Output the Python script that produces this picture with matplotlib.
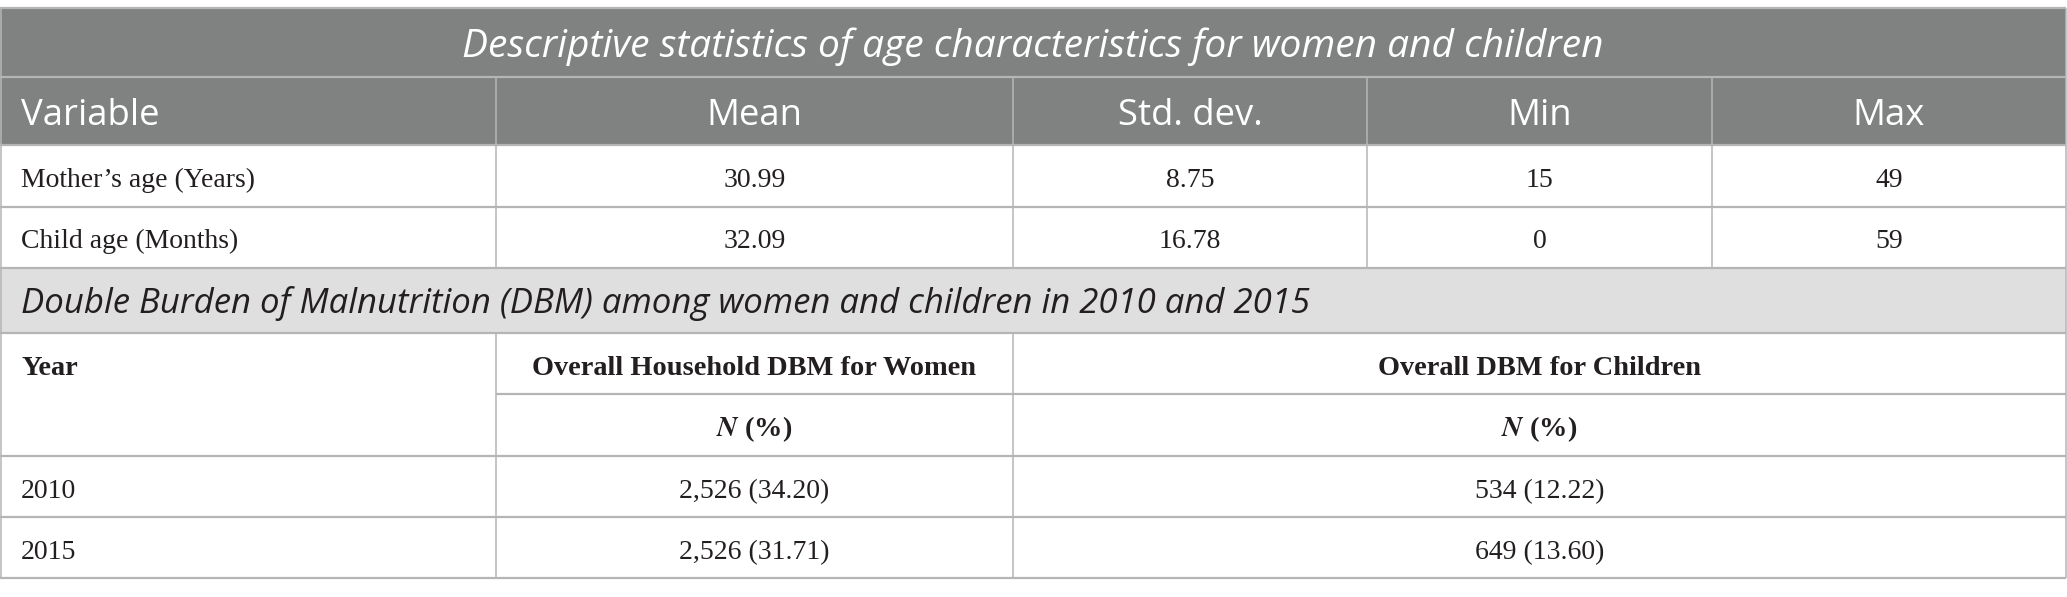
import matplotlib
matplotlib.use("Agg")
import matplotlib.pyplot as plt
from matplotlib.patches import Rectangle

# ---------------- data ----------------
title_top = "Descriptive statistics of age characteristics for women and children"
header_top = ["Variable", "Mean", "Std. dev.", "Min", "Max"]
variables = ["Mother\u2019s age (Years)", "Child age (Months)"]
means = ["30.99", "32.09"]
stds = ["8.75", "16.78"]
mins = ["15", "0"]
maxs = ["49", "59"]

title_bottom = "Double Burden of Malnutrition (DBM) among women and children in 2010 and 2015"
header_bottom = ["Year", "Overall Household DBM for Women", "Overall DBM for Children"]
sub_header = "(%)"
years = ["2010", "2015"]
women_dbm = ["2,526 (34.20)", "2,526 (31.71)"]
children_dbm = ["534 (12.22)", "649 (13.60)"]

# ---------------- layout (pixels) ----------------
W, H = 2067, 597
cols = [0, 496, 1013, 1367, 1712, 2066]
rows = [8, 77, 145, 207, 268, 333, 394, 456, 517, 578]

DARK = "#808281"
LIGHT = "#e0dfdf"
LINE = "#b5b5b5"
TXT = "#231f20"
SANS = "Open Sans"
SERIF = "Liberation Serif"

fig = plt.figure(figsize=(W / 100, H / 100), dpi=100)
ax = fig.add_axes([0, 0, 1, 1])
ax.set_xlim(0, W)
ax.set_ylim(H, 0)
ax.axis("off")

def band(y0, y1, color):
    ax.add_patch(Rectangle((cols[0], y0), cols[-1] - cols[0], y1 - y0,
                           facecolor=color, edgecolor="none", zorder=0))

band(rows[0], rows[2], DARK)
band(rows[4], rows[5], LIGHT)

def hline(y, x0=cols[0], x1=cols[-1], color=LINE, lw=1.6):
    ax.plot([x0, x1], [y, y], color=color, lw=lw, solid_capstyle="butt", zorder=2)

def vline(x, y0, y1, color=LINE, lw=1.1):
    ax.plot([x, x], [y0, y1], color=color, lw=lw, solid_capstyle="butt", zorder=2)

for i, y in enumerate(rows):
    if i == 6:
        hline(y, cols[1], cols[-1])
    else:
        hline(y)

# vertical separators
for x in cols[1:-1]:
    vline(x, rows[1], rows[4])
for x in cols[1:3]:
    vline(x, rows[5], rows[9])
vline(cols[0] + 0.8, rows[0], rows[9])
vline(cols[-1] - 0.5, rows[0], rows[9])

def center(i):
    return (rows[i] + rows[i + 1]) / 2

def col_mid(a, b):
    return (cols[a] + cols[b]) / 2

LX = 21

# title row
ax.text(W / 2 - 1, center(0) + 14.5, title_top, color="white", family=SANS,
        style="italic", fontsize=28, ha="center", va="baseline")

# header row
for j, h in enumerate(header_top):
    x = LX if j == 0 else col_mid(j, j + 1)
    ax.text(x, center(1) + 14, h, color="white", family=SANS, fontsize=26.3,
            ha="left" if j == 0 else "center", va="baseline")

# age rows
for r, vals in enumerate(zip(variables, means, stds, mins, maxs)):
    for j, v in enumerate(vals):
        x = LX if j == 0 else col_mid(j, j + 1)
        ax.text(x, center(2 + r) + 11, v, color=TXT, family=SERIF, fontsize=20,
                ha="left" if j == 0 else "center", va="baseline")

# DBM section title
ax.text(LX, center(4) + 12.5, title_bottom, color=TXT, family=SANS,
        style="italic", fontsize=25, ha="left", va="baseline")

# DBM header
ax.text(LX, center(5) + 11.5, header_bottom[0], color=TXT, family=SERIF,
        weight="bold", fontsize=20.4, ha="left", va="baseline")
ax.text(col_mid(1, 2), center(5) + 11.5, header_bottom[1], color=TXT, family=SERIF,
        weight="bold", fontsize=20.4, ha="center", va="baseline")
ax.text(col_mid(2, 5), center(5) + 11.5, header_bottom[2], color=TXT, family=SERIF,
        weight="bold", fontsize=20.4, ha="center", va="baseline")

# N (%) sub-header
for a, b in [(1, 2), (2, 5)]:
    ax.text(col_mid(a, b), center(6) + 11.5,
            r"$\mathbfit{N}$" + " " + sub_header, color=TXT, family=SERIF,
            weight="bold", fontsize=20.4, ha="center", va="baseline",
            math_fontfamily="stix")

# DBM data rows
for r, (yr, w, c) in enumerate(zip(years, women_dbm, children_dbm)):
    yc = center(7 + r) + 11.5
    ax.text(LX, yc, yr, color=TXT, family=SERIF, fontsize=20, ha="left", va="baseline")
    ax.text(col_mid(1, 2), yc, w, color=TXT, family=SERIF, fontsize=20, ha="center", va="baseline")
    ax.text(col_mid(2, 5), yc, c, color=TXT, family=SERIF, fontsize=20, ha="center", va="baseline")

fig.savefig("out.png", dpi=100, facecolor="white")
